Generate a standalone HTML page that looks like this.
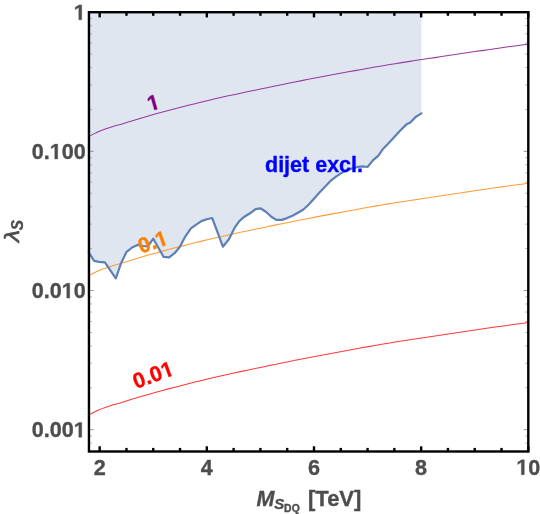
<!DOCTYPE html>
<html><head><meta charset="utf-8"><title>plot</title>
<style>
html,body{margin:0;padding:0;background:#fff;}
body{width:540px;height:514px;overflow:hidden;}
svg{display:block;}
text{font-family:"Liberation Sans",sans-serif;font-weight:bold;}
</style></head><body>
<svg width="540" height="514" viewBox="0 0 540 514" style="will-change:opacity;filter:opacity(1)">

<polygon points="89.0,12.2 88.8,252.6 94.2,260.9 98.8,261.8 104.9,262.4 115.8,278.3 121.0,263.4 126.3,252.2 132.1,247.5 137.4,244.9 142.5,246.0 147.8,246.5 153.3,238.7 163.6,256.9 169.2,257.3 174.6,253.2 179.9,246.8 185.1,236.8 190.9,228.4 196.2,224.6 201.4,221.1 206.7,219.2 212.2,218.0 222.9,246.7 228.9,239.3 234.4,228.2 239.3,221.1 244.4,216.7 250.0,213.3 255.6,209.1 260.4,208.3 265.9,211.7 271.3,216.8 276.4,219.9 281.8,219.9 287.0,218.1 292.5,215.7 297.9,212.7 303.1,209.7 308.8,204.5 314.2,198.4 319.7,192.3 325.0,186.8 330.9,180.6 336.3,176.4 341.8,172.8 347.2,170.3 352.6,168.3 358.0,166.9 362.5,166.4 367.5,167.0 372.9,160.4 378.4,155.6 383.2,148.7 388.5,143.2 393.9,137.5 399.8,131.0 406.2,124.6 410.3,122.6 415.6,117.0 421.4,113.4 421.4,12.2" fill="#dfe6f0"/>
<polyline points="88.95,136.51 90.90,135.41 92.86,134.37 94.81,133.37 96.77,132.44 98.72,131.55 100.68,130.73 102.63,129.97 104.59,129.27 106.54,128.61 108.50,127.98 110.45,127.34 112.41,126.72 114.36,126.12 116.32,125.56 118.27,125.06 120.23,124.53 122.18,123.93 124.14,123.30 126.09,122.67 128.05,122.07 130.00,121.46 135.00,119.93 141.67,117.92 148.33,115.98 155.00,114.10 161.66,112.27 168.33,110.48 175.00,108.74 181.66,107.02 188.33,105.33 194.99,103.67 201.66,102.03 208.33,100.42 214.99,98.85 221.66,97.32 228.33,95.84 234.99,94.40 241.66,92.98 248.32,91.59 254.99,90.20 261.66,88.80 268.32,87.41 274.99,86.02 281.65,84.65 288.32,83.29 294.99,81.95 301.65,80.62 308.32,79.32 314.98,78.04 321.65,76.77 328.32,75.51 334.98,74.27 341.65,73.05 348.32,71.83 354.98,70.61 361.65,69.40 368.31,68.21 374.98,67.04 381.65,65.90 388.31,64.78 394.98,63.69 401.64,62.64 408.31,61.61 414.98,60.60 421.64,59.60 428.31,58.60 434.97,57.61 441.64,56.60 448.31,55.59 454.97,54.59 461.64,53.58 468.31,52.59 474.97,51.60 481.64,50.62 488.30,49.65 494.97,48.69 501.64,47.77 508.30,46.85 514.97,45.95 521.63,45.06 528.30,44.20" fill="none" stroke="#963aa0" stroke-width="1.05"/>
<polyline points="88.95,275.61 90.90,274.51 92.86,273.47 94.81,272.47 96.77,271.54 98.72,270.65 100.68,269.83 102.63,269.07 104.59,268.37 106.54,267.71 108.50,267.08 110.45,266.44 112.41,265.82 114.36,265.22 116.32,264.66 118.27,264.16 120.23,263.63 122.18,263.03 124.14,262.40 126.09,261.77 128.05,261.17 130.00,260.56 135.00,259.03 141.67,257.02 148.33,255.08 155.00,253.20 161.66,251.37 168.33,249.58 175.00,247.84 181.66,246.12 188.33,244.43 194.99,242.77 201.66,241.13 208.33,239.52 214.99,237.95 221.66,236.42 228.33,234.94 234.99,233.50 241.66,232.08 248.32,230.69 254.99,229.30 261.66,227.90 268.32,226.51 274.99,225.12 281.65,223.75 288.32,222.39 294.99,221.05 301.65,219.72 308.32,218.42 314.98,217.14 321.65,215.87 328.32,214.61 334.98,213.37 341.65,212.15 348.32,210.93 354.98,209.71 361.65,208.50 368.31,207.31 374.98,206.14 381.65,205.00 388.31,203.88 394.98,202.79 401.64,201.74 408.31,200.71 414.98,199.70 421.64,198.70 428.31,197.70 434.97,196.71 441.64,195.70 448.31,194.69 454.97,193.69 461.64,192.68 468.31,191.69 474.97,190.70 481.64,189.72 488.30,188.75 494.97,187.79 501.64,186.87 508.30,185.95 514.97,185.05 521.63,184.16 528.30,183.30" fill="none" stroke="#ff9c38" stroke-width="1.05"/>
<polyline points="88.95,414.91 90.90,413.81 92.86,412.77 94.81,411.77 96.77,410.84 98.72,409.95 100.68,409.13 102.63,408.37 104.59,407.67 106.54,407.01 108.50,406.38 110.45,405.74 112.41,405.12 114.36,404.52 116.32,403.96 118.27,403.46 120.23,402.93 122.18,402.33 124.14,401.70 126.09,401.07 128.05,400.47 130.00,399.86 135.00,398.33 141.67,396.32 148.33,394.38 155.00,392.50 161.66,390.67 168.33,388.88 175.00,387.14 181.66,385.42 188.33,383.73 194.99,382.07 201.66,380.43 208.33,378.82 214.99,377.25 221.66,375.72 228.33,374.24 234.99,372.80 241.66,371.38 248.32,369.99 254.99,368.60 261.66,367.20 268.32,365.81 274.99,364.42 281.65,363.05 288.32,361.69 294.99,360.35 301.65,359.02 308.32,357.72 314.98,356.44 321.65,355.17 328.32,353.91 334.98,352.67 341.65,351.45 348.32,350.23 354.98,349.01 361.65,347.80 368.31,346.61 374.98,345.44 381.65,344.30 388.31,343.18 394.98,342.09 401.64,341.04 408.31,340.01 414.98,339.00 421.64,338.00 428.31,337.00 434.97,336.01 441.64,335.00 448.31,333.99 454.97,332.99 461.64,331.98 468.31,330.99 474.97,330.00 481.64,329.02 488.30,328.05 494.97,327.09 501.64,326.17 508.30,325.25 514.97,324.35 521.63,323.46 528.30,322.60" fill="none" stroke="#ff3a3a" stroke-width="1.05"/>
<polyline points="88.8,252.6 94.2,260.9 98.8,261.8 104.9,262.4 115.8,278.3 121.0,263.4 126.3,252.2 132.1,247.5 137.4,244.9 142.5,246.0 147.8,246.5 153.3,238.7 163.6,256.9 169.2,257.3 174.6,253.2 179.9,246.8 185.1,236.8 190.9,228.4 196.2,224.6 201.4,221.1 206.7,219.2 212.2,218.0 222.9,246.7 228.9,239.3 234.4,228.2 239.3,221.1 244.4,216.7 250.0,213.3 255.6,209.1 260.4,208.3 265.9,211.7 271.3,216.8 276.4,219.9 281.8,219.9 287.0,218.1 292.5,215.7 297.9,212.7 303.1,209.7 308.8,204.5 314.2,198.4 319.7,192.3 325.0,186.8 330.9,180.6 336.3,176.4 341.8,172.8 347.2,170.3 352.6,168.3 358.0,166.9 362.5,166.4 367.5,167.0 372.9,160.4 378.4,155.6 383.2,148.7 388.5,143.2 393.9,137.5 399.8,131.0 406.2,124.6 410.3,122.6 415.6,117.0 421.4,113.4" fill="none" stroke="#5e81b5" stroke-width="2.2" stroke-linejoin="round" stroke-linecap="round"/>
<g stroke="#000" stroke-width="2.4"><line x1="99.67" y1="451.5" x2="99.67" y2="446.3"/><line x1="99.67" y1="12.2" x2="99.67" y2="17.4"/><line x1="126.46" y1="451.5" x2="126.46" y2="447.9"/><line x1="126.46" y1="12.2" x2="126.46" y2="15.799999999999999"/><line x1="153.25" y1="451.5" x2="153.25" y2="447.9"/><line x1="153.25" y1="12.2" x2="153.25" y2="15.799999999999999"/><line x1="180.03" y1="451.5" x2="180.03" y2="447.9"/><line x1="180.03" y1="12.2" x2="180.03" y2="15.799999999999999"/><line x1="206.82" y1="451.5" x2="206.82" y2="446.3"/><line x1="206.82" y1="12.2" x2="206.82" y2="17.4"/><line x1="233.61" y1="451.5" x2="233.61" y2="447.9"/><line x1="233.61" y1="12.2" x2="233.61" y2="15.799999999999999"/><line x1="260.40" y1="451.5" x2="260.40" y2="447.9"/><line x1="260.40" y1="12.2" x2="260.40" y2="15.799999999999999"/><line x1="287.19" y1="451.5" x2="287.19" y2="447.9"/><line x1="287.19" y1="12.2" x2="287.19" y2="15.799999999999999"/><line x1="313.98" y1="451.5" x2="313.98" y2="446.3"/><line x1="313.98" y1="12.2" x2="313.98" y2="17.4"/><line x1="340.77" y1="451.5" x2="340.77" y2="447.9"/><line x1="340.77" y1="12.2" x2="340.77" y2="15.799999999999999"/><line x1="367.56" y1="451.5" x2="367.56" y2="447.9"/><line x1="367.56" y1="12.2" x2="367.56" y2="15.799999999999999"/><line x1="394.35" y1="451.5" x2="394.35" y2="447.9"/><line x1="394.35" y1="12.2" x2="394.35" y2="15.799999999999999"/><line x1="421.14" y1="451.5" x2="421.14" y2="446.3"/><line x1="421.14" y1="12.2" x2="421.14" y2="17.4"/><line x1="447.93" y1="451.5" x2="447.93" y2="447.9"/><line x1="447.93" y1="12.2" x2="447.93" y2="15.799999999999999"/><line x1="474.72" y1="451.5" x2="474.72" y2="447.9"/><line x1="474.72" y1="12.2" x2="474.72" y2="15.799999999999999"/><line x1="501.51" y1="451.5" x2="501.51" y2="447.9"/><line x1="501.51" y1="12.2" x2="501.51" y2="15.799999999999999"/><line x1="528.30" y1="451.5" x2="528.30" y2="446.3"/><line x1="528.30" y1="12.2" x2="528.30" y2="17.4"/></g>
<g stroke="#6a6a6a" stroke-width="0.7"><line x1="88.95" y1="109.46" x2="91.95" y2="109.46" opacity="0.75"/><line x1="528.3" y1="109.46" x2="525.3" y2="109.46" opacity="0.75"/><line x1="88.95" y1="84.96" x2="91.95" y2="84.96" opacity="0.75"/><line x1="528.3" y1="84.96" x2="525.3" y2="84.96" opacity="0.75"/><line x1="88.95" y1="67.57" x2="91.95" y2="67.57" opacity="0.75"/><line x1="528.3" y1="67.57" x2="525.3" y2="67.57" opacity="0.75"/><line x1="88.95" y1="54.09" x2="91.95" y2="54.09" opacity="0.75"/><line x1="528.3" y1="54.09" x2="525.3" y2="54.09" opacity="0.75"/><line x1="88.95" y1="43.07" x2="91.95" y2="43.07" opacity="0.75"/><line x1="528.3" y1="43.07" x2="525.3" y2="43.07" opacity="0.75"/><line x1="88.95" y1="33.75" x2="91.95" y2="33.75" opacity="0.75"/><line x1="528.3" y1="33.75" x2="525.3" y2="33.75" opacity="0.75"/><line x1="88.95" y1="25.69" x2="91.95" y2="25.69" opacity="0.75"/><line x1="528.3" y1="25.69" x2="525.3" y2="25.69" opacity="0.75"/><line x1="88.95" y1="18.57" x2="91.95" y2="18.57" opacity="0.75"/><line x1="528.3" y1="18.57" x2="525.3" y2="18.57" opacity="0.75"/><line x1="88.95" y1="151.35" x2="93.55" y2="151.35" opacity="1"/><line x1="528.3" y1="151.35" x2="523.6999999999999" y2="151.35" opacity="1"/><line x1="88.95" y1="248.61" x2="91.95" y2="248.61" opacity="0.75"/><line x1="528.3" y1="248.61" x2="525.3" y2="248.61" opacity="0.75"/><line x1="88.95" y1="224.11" x2="91.95" y2="224.11" opacity="0.75"/><line x1="528.3" y1="224.11" x2="525.3" y2="224.11" opacity="0.75"/><line x1="88.95" y1="206.72" x2="91.95" y2="206.72" opacity="0.75"/><line x1="528.3" y1="206.72" x2="525.3" y2="206.72" opacity="0.75"/><line x1="88.95" y1="193.24" x2="91.95" y2="193.24" opacity="0.75"/><line x1="528.3" y1="193.24" x2="525.3" y2="193.24" opacity="0.75"/><line x1="88.95" y1="182.22" x2="91.95" y2="182.22" opacity="0.75"/><line x1="528.3" y1="182.22" x2="525.3" y2="182.22" opacity="0.75"/><line x1="88.95" y1="172.90" x2="91.95" y2="172.90" opacity="0.75"/><line x1="528.3" y1="172.90" x2="525.3" y2="172.90" opacity="0.75"/><line x1="88.95" y1="164.84" x2="91.95" y2="164.84" opacity="0.75"/><line x1="528.3" y1="164.84" x2="525.3" y2="164.84" opacity="0.75"/><line x1="88.95" y1="157.72" x2="91.95" y2="157.72" opacity="0.75"/><line x1="528.3" y1="157.72" x2="525.3" y2="157.72" opacity="0.75"/><line x1="88.95" y1="290.50" x2="93.55" y2="290.50" opacity="1"/><line x1="528.3" y1="290.50" x2="523.6999999999999" y2="290.50" opacity="1"/><line x1="88.95" y1="387.76" x2="91.95" y2="387.76" opacity="0.75"/><line x1="528.3" y1="387.76" x2="525.3" y2="387.76" opacity="0.75"/><line x1="88.95" y1="363.26" x2="91.95" y2="363.26" opacity="0.75"/><line x1="528.3" y1="363.26" x2="525.3" y2="363.26" opacity="0.75"/><line x1="88.95" y1="345.87" x2="91.95" y2="345.87" opacity="0.75"/><line x1="528.3" y1="345.87" x2="525.3" y2="345.87" opacity="0.75"/><line x1="88.95" y1="332.39" x2="91.95" y2="332.39" opacity="0.75"/><line x1="528.3" y1="332.39" x2="525.3" y2="332.39" opacity="0.75"/><line x1="88.95" y1="321.37" x2="91.95" y2="321.37" opacity="0.75"/><line x1="528.3" y1="321.37" x2="525.3" y2="321.37" opacity="0.75"/><line x1="88.95" y1="312.05" x2="91.95" y2="312.05" opacity="0.75"/><line x1="528.3" y1="312.05" x2="525.3" y2="312.05" opacity="0.75"/><line x1="88.95" y1="303.99" x2="91.95" y2="303.99" opacity="0.75"/><line x1="528.3" y1="303.99" x2="525.3" y2="303.99" opacity="0.75"/><line x1="88.95" y1="296.87" x2="91.95" y2="296.87" opacity="0.75"/><line x1="528.3" y1="296.87" x2="525.3" y2="296.87" opacity="0.75"/><line x1="88.95" y1="429.65" x2="93.55" y2="429.65" opacity="1"/><line x1="528.3" y1="429.65" x2="523.6999999999999" y2="429.65" opacity="1"/><line x1="88.95" y1="443.14" x2="91.95" y2="443.14" opacity="0.75"/><line x1="528.3" y1="443.14" x2="525.3" y2="443.14" opacity="0.75"/><line x1="88.95" y1="436.02" x2="91.95" y2="436.02" opacity="0.75"/><line x1="528.3" y1="436.02" x2="525.3" y2="436.02" opacity="0.75"/></g>
<rect x="88.95" y="12.2" width="439.34999999999997" height="439.3" fill="none" stroke="#000" stroke-width="2.4"/>
<g fill="#4d4d4d" stroke="#4d4d4d" stroke-width="0.35" stroke-linejoin="round" font-size="21.6px">
<g><path d="M478,0 L478,1170 L140,959 L140,1180 L493,1409 L759,1409 L759,0 Z" vector-effect="non-scaling-stroke" transform="translate(73.74,19.80) scale(0.01055,-0.01055)"/></g>
<g><text x="31.70" y="158.95" font-size="21.6px">0.</text><path d="M478,0 L478,1170 L140,959 L140,1180 L493,1409 L759,1409 L759,0 Z" vector-effect="non-scaling-stroke" transform="translate(49.71,158.95) scale(0.01055,-0.01055)"/><text x="61.72" y="158.95" font-size="21.6px">00</text></g>
<g><text x="31.70" y="298.10" font-size="21.6px">0.0</text><path d="M478,0 L478,1170 L140,959 L140,1180 L493,1409 L759,1409 L759,0 Z" vector-effect="non-scaling-stroke" transform="translate(61.72,298.10) scale(0.01055,-0.01055)"/><text x="73.74" y="298.10" font-size="21.6px">0</text></g>
<g><text x="31.70" y="437.25" font-size="21.6px">0.00</text><path d="M478,0 L478,1170 L140,959 L140,1180 L493,1409 L759,1409 L759,0 Z" vector-effect="non-scaling-stroke" transform="translate(73.74,437.25) scale(0.01055,-0.01055)"/></g>
<text x="99.7" y="474.7" text-anchor="middle">2</text>
<text x="206.8" y="474.7" text-anchor="middle">4</text>
<text x="314.0" y="474.7" text-anchor="middle">6</text>
<text x="421.1" y="474.7" text-anchor="middle">8</text>
<g><path d="M478,0 L478,1170 L140,959 L140,1180 L493,1409 L759,1409 L759,0 Z" vector-effect="non-scaling-stroke" transform="translate(516.29,474.70) scale(0.01055,-0.01055)"/><text x="528.30" y="474.70" font-size="21.6px">0</text></g>
</g>
<text x="265" y="171.7" fill="#0000ff" stroke="#0000ff" stroke-width="0.35" stroke-linejoin="round" font-size="21.5px">dijet excl.</text>
<g fill="#800080" stroke="#800080" stroke-width="0.35" stroke-linejoin="round" transform="translate(155.4,109.7) rotate(-16)"><path d="M478,0 L478,1170 L140,959 L140,1180 L493,1409 L759,1409 L759,0 Z" vector-effect="non-scaling-stroke" transform="translate(-5.98,0.00) scale(0.01050,-0.01050)"/></g>
<g fill="#ff8000" stroke="#ff8000" stroke-width="0.35" stroke-linejoin="round" transform="translate(155.2,248.9) rotate(-19)"><text x="-14.94" y="0.00" font-size="21.5px">0.</text><path d="M478,0 L478,1170 L140,959 L140,1180 L493,1409 L759,1409 L759,0 Z" vector-effect="non-scaling-stroke" transform="translate(2.99,0.00) scale(0.01050,-0.01050)"/></g>
<g fill="#ff0000" stroke="#ff0000" stroke-width="0.35" stroke-linejoin="round" transform="translate(155.6,381.8) rotate(-20)"><text x="-20.92" y="0.00" font-size="21.5px">0.0</text><path d="M478,0 L478,1170 L140,959 L140,1180 L493,1409 L759,1409 L759,0 Z" vector-effect="non-scaling-stroke" transform="translate(8.97,0.00) scale(0.01050,-0.01050)"/></g>
<g fill="#4d4d4d" stroke="#4d4d4d" stroke-width="0.35" stroke-linejoin="round">
<text x="256.5" y="505.7" font-size="21.5px" font-style="italic">M</text>
<text x="274.3" y="509.4" font-size="15px" font-style="italic">S</text>
<text x="284.0" y="511.7" font-size="10.4px" letter-spacing="0.25">DQ</text>
<text x="308" y="505.7" font-size="22px">[TeV]</text>
<g transform="translate(20.4,242.6) rotate(-90)">
<text x="0.6" y="-1.2" font-size="21px" font-style="italic" style="font-weight:normal" stroke-width="0.7" transform="scale(1.16,1)">λ</text>
<text x="12.8" y="2.6" font-size="16px" font-style="italic" transform="scale(0.96,1)">S</text>
</g>
</g>
</svg>
</body></html>
